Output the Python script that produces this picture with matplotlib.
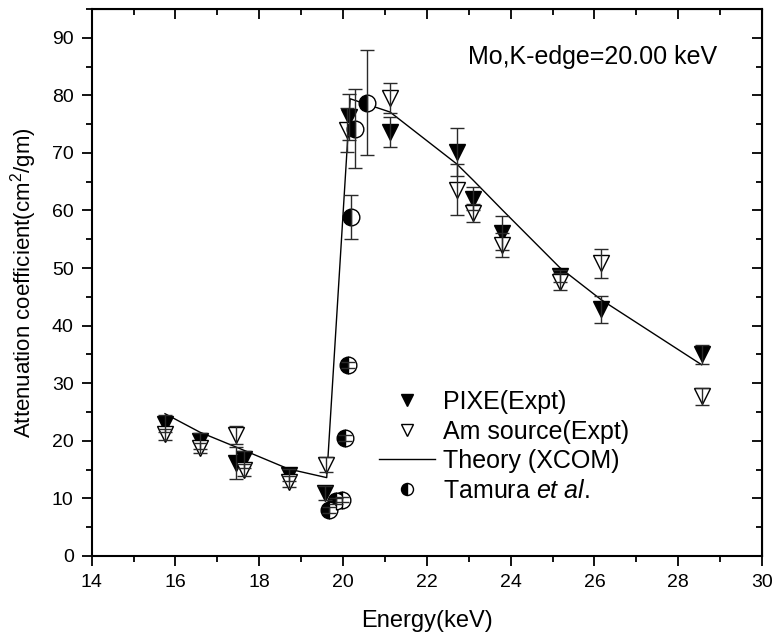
import numpy as np
import matplotlib.pyplot as plt
from matplotlib.ticker import MultipleLocator

plt.rcParams['font.family'] = ['Liberation Sans', 'DejaVu Sans']
plt.rcParams['mathtext.fontset'] = 'custom'
plt.rcParams['mathtext.rm'] = 'Liberation Sans'
plt.rcParams['mathtext.it'] = 'Liberation Sans:italic'

# PIXE (Expt)
pixe_e = [15.75, 16.58, 17.44, 17.64, 18.70, 19.57, 20.15, 21.12, 22.71, 23.10, 23.80, 25.17, 26.16, 28.56]
pixe_y = [23.0, 19.9, 16.1, 16.8, 14.1, 10.9, 76.3, 73.6, 70.1, 62.0, 56.1, 48.6, 42.8, 35.0]
pixe_err = [1.5, 1.4, 2.8, 1.5, 1.0, 1.2, 4.0, 2.6, 4.2, 2.0, 3.0, 1.0, 2.4, 1.7]

# Am source (Expt)
am_e = [15.75, 16.58, 17.44, 17.64, 18.70, 19.60, 20.09, 21.12, 22.71, 23.10, 23.80, 25.17, 26.16, 28.56]
am_y = [21.1, 18.7, 21.0, 14.9, 12.9, 15.8, 74.0, 79.6, 63.6, 59.6, 54.0, 47.6, 50.8, 27.7]
am_err = [1.0, 0.9, 1.6, 1.0, 1.0, 1.3, 3.8, 2.6, 4.4, 1.6, 2.0, 1.5, 2.5, 1.4]

# Theory (XCOM)
th_e = [15.75, 16.58, 17.55, 18.70, 19.61, 20.17, 21.12, 22.71, 23.10, 23.80, 25.17, 26.16, 28.56]
th_y = [24.7, 21.5, 18.6, 15.1, 13.6, 79.4, 77.1, 68.1, 65.3, 60.1, 50.1, 44.5, 33.2]

# Tamura et al.
tam_e = [19.67, 19.82, 19.97, 20.05, 20.11, 20.19, 20.29, 20.56]
tam_y = [8.0, 9.5, 9.8, 20.5, 33.1, 58.9, 74.2, 78.7]
tam_err = [0.5, 0.5, 0.5, 0.5, 0.5, 3.8, 6.9, 9.1]

fig = plt.figure(figsize=(7.79, 6.39), dpi=100)
ax = fig.add_axes([0.1177, 0.130, 0.8605, 0.856])

th, = ax.plot(th_e, th_y, color='black', lw=1.0, label='Theory (XCOM)', zorder=2)
p1, = ax.plot(pixe_e, pixe_y, 'v', ms=12, mfc='black', mec='black', ls='none', label='PIXE(Expt)', zorder=4)
p2, = ax.plot(am_e, am_y, 'v', ms=12, mfc='white', mec='black', mew=1, ls='none', label='Am source(Expt)', zorder=4)
p3, = ax.plot(tam_e, tam_y, 'o', ms=12, fillstyle='left', mfc='black', markerfacecoloralt='white',
              mec='black', mew=1, ls='none', label='Tamura $\\it{et\\ al.}$', zorder=5)
for e, y, err in [(pixe_e, pixe_y, pixe_err), (am_e, am_y, am_err), (tam_e, tam_y, tam_err)]:
    ax.errorbar(e, y, yerr=err, fmt='none', ecolor='#2a2a2a', elinewidth=1, capsize=5, capthick=1, zorder=6)

ax.set_xlim(14, 30)
ax.set_ylim(0, 95)
ax.xaxis.set_major_locator(MultipleLocator(2))
ax.xaxis.set_minor_locator(MultipleLocator(1))
ax.yaxis.set_major_locator(MultipleLocator(10))
ax.yaxis.set_minor_locator(MultipleLocator(5))
ax.tick_params(which='major', direction='out', length=7, width=1.3, labelsize=14, pad=6)
ax.tick_params(which='minor', direction='out', length=4, width=1.3)
for s in ax.spines.values():
    s.set_linewidth(1.5)

top = ax.secondary_xaxis('top')
top.xaxis.set_major_locator(MultipleLocator(2))
top.xaxis.set_minor_locator(MultipleLocator(1))
top.tick_params(which='major', direction='in', length=7, width=1.3, labeltop=False)
top.tick_params(which='minor', direction='in', length=4, width=1.3)
right = ax.secondary_yaxis('right')
right.yaxis.set_major_locator(MultipleLocator(10))
right.yaxis.set_minor_locator(MultipleLocator(5))
right.tick_params(which='major', direction='in', length=7, width=1.3, labelright=False)
right.tick_params(which='minor', direction='in', length=4, width=1.3)

ax.set_xlabel('Energy(keV)', fontsize=17, labelpad=14)
ax.set_ylabel('Attenuation coefficient(cm$^2$/gm)', fontsize=16, labelpad=9)
ax.text(22.98, 85.5, 'Mo,K-edge=20.00 keV', fontsize=18, va='baseline', ha='left')

ax.legend(handles=[p1, p2, th, p3], loc='upper left', bbox_to_anchor=(0.4286, 0.303),
          frameon=False, fontsize=18, markerscale=0.72, handlelength=2.24,
          borderpad=0, borderaxespad=0, labelspacing=0.22, handletextpad=0.32)

fig.savefig('out.png', dpi=100)
